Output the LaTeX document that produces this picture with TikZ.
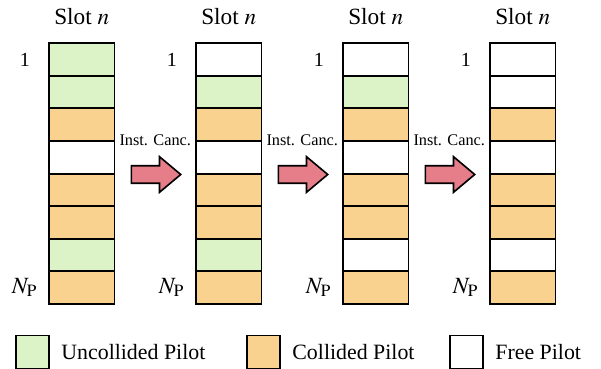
\documentclass[tikz,border=0pt]{standalone}
\usepackage{mathptmx}
\usepackage[no-math]{fontspec}
\setmainfont{Liberation Serif}
\usepackage{tikz}
\usetikzlibrary{shapes,positioning,calc}
\definecolor{pilotgreen}{HTML}{DBF3C6}
\definecolor{pilotorange}{HTML}{F9D28F}
\definecolor{cancred}{HTML}{E67E8A}

\begin{document}
\begin{tikzpicture}[x=0.43pt, y=-0.43pt,
    cell/.style={draw, line width=0.8pt, minimum width=28.2pt, minimum height=14pt, inner sep=0pt},
    legendbox/.style={draw, line width=0.8pt, minimum width=14.2pt, minimum height=14.2pt, inner sep=0pt},
    cancarrow/.style={single arrow, draw, line width=0.7pt, fill=cancred, inner xsep=0pt, inner ysep=3.4pt,
        minimum height=21.2pt, single arrow head extend=3.9pt, single arrow tip angle=80, anchor=tail},
    canctext/.style={font=\fontsize{7}{8}\selectfont, inner sep=0pt},
    legendtext/.style={font=\fontsize{9.4}{11}\selectfont}]
    \useasboundingbox (0,0) rectangle (601,369);

    % slot columns before and after each cancellation step
    \foreach \c/\x/\cols in {1/81.75/{pilotgreen,pilotgreen,pilotorange,white,pilotorange,pilotorange,pilotgreen,pilotorange},
                             2/228.75/{white,pilotgreen,pilotorange,white,pilotorange,pilotorange,pilotgreen,pilotorange},
                             3/375.75/{white,pilotgreen,pilotorange,white,pilotorange,pilotorange,white,pilotorange},
                             4/522.75/{white,white,pilotorange,white,pilotorange,pilotorange,white,pilotorange}} {
        \foreach \f [count=\r] in \cols {
            \node[cell, fill=\f] (c\c-\r) at (\x, 43.2+16.3+32.6*\r-32.6) {};
        }
        \node at ([yshift=11.2pt]c\c-1.north) {Slot $n$};
        \node[font=\fontsize{8.6}{10}\selectfont] at ([xshift=-10pt]c\c-1.west) {1};
        \node at ([xshift=-10pt]c\c-8.west) {$N_\mathrm{P}$};
    }

    % cancellation arrows
    \foreach \a [evaluate=\a as \b using int(\a+1)] in {1,2,3} {
        \coordinate (mid\a) at ($(c\a-4.south east)!0.5!(c\b-4.south west)$);
        \node[cancarrow] (arr\a) at ([xshift=-10.6pt]mid\a) {};
        \node[canctext] at ([yshift=14.9pt]mid\a) {Inst. Canc.};
    }

    % legend
    \node[legendbox, fill=pilotgreen] (lg1) at (32.5,352) {};
    \node[legendtext, right=1.4pt of lg1] {Uncollided Pilot};
    \node[legendbox, fill=pilotorange] (lg2) at (263.5,352) {};
    \node[legendtext, right=1.4pt of lg2] {Collided Pilot};
    \node[legendbox, fill=white] (lg3) at (466.5,352) {};
    \node[legendtext, right=1.4pt of lg3] {Free Pilot};
\end{tikzpicture}
\end{document}
